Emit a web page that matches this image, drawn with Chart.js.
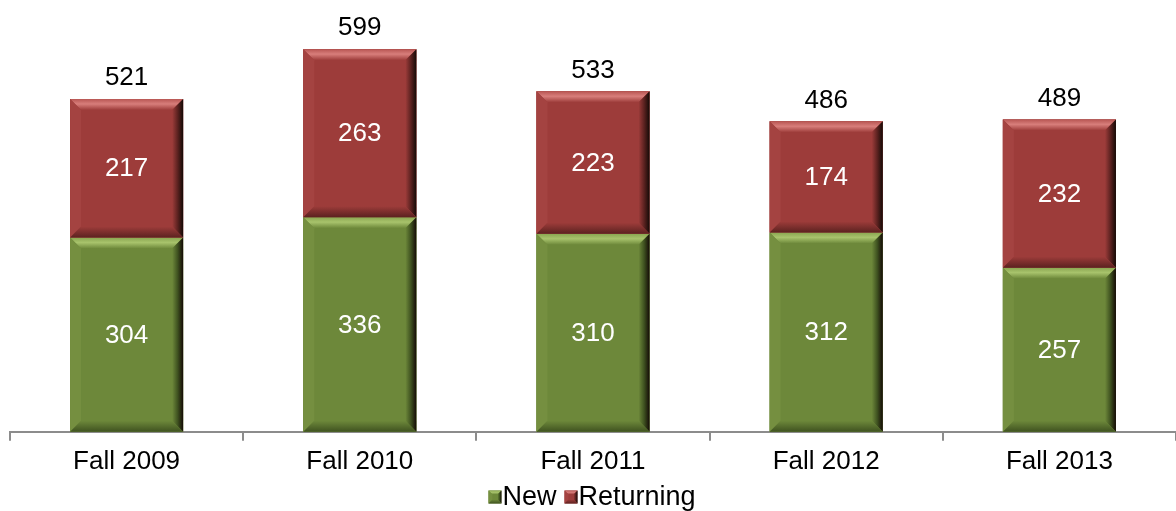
<!DOCTYPE html>
<html>
<head>
<meta charset="utf-8">
<script src="https://cdn.jsdelivr.net/npm/chart.js@4/dist/chart.umd.min.js"></script>
<style>
  html, body { margin: 0; padding: 0; background: #fff; }
  #wrap { width: 1176px; height: 511px; }
</style>
</head>
<body>
<div id="wrap"><canvas id="enroll"></canvas></div>
<script>
const terms = ["Fall 2009", "Fall 2010", "Fall 2011", "Fall 2012", "Fall 2013"];
const newStudents = [304, 336, 310, 312, 257];
const returning = [217, 263, 223, 174, 232];

const FONT = "'Liberation Sans', Arial, sans-serif";

// paint a bevelled box (office style) over a rectangle
function bevelBox(ctx, l, t, r, b, s, c) {
    ctx.save();
    ctx.fillStyle = c.base;
    ctx.fillRect(l, t, r - l, b - t);
    // top light
    let g = ctx.createLinearGradient(0, t, 0, t + s);
    g.addColorStop(0, c.top0);
    g.addColorStop(0.45, c.top1);
    g.addColorStop(1, c.base);
    ctx.fillStyle = g;
    ctx.beginPath();
    ctx.moveTo(l, t); ctx.lineTo(r, t); ctx.lineTo(r - s, t + s); ctx.lineTo(l + s, t + s);
    ctx.closePath(); ctx.fill();
    // left
    ctx.fillStyle = c.side;
    ctx.beginPath();
    ctx.moveTo(l, t); ctx.lineTo(l + s, t + s); ctx.lineTo(l + s, b - s); ctx.lineTo(l, b);
    ctx.closePath(); ctx.fill();
    // right dark
    g = ctx.createLinearGradient(r - s, 0, r, 0);
    g.addColorStop(0, c.base);
    g.addColorStop(0.5, c.dark);
    g.addColorStop(1, "#140a06");
    ctx.fillStyle = g;
    ctx.beginPath();
    ctx.moveTo(r, t); ctx.lineTo(r, b); ctx.lineTo(r - s, b - s); ctx.lineTo(r - s, t + s);
    ctx.closePath(); ctx.fill();
    // bottom dark
    g = ctx.createLinearGradient(0, b - s, 0, b);
    g.addColorStop(0, c.base);
    g.addColorStop(1, c.dark);
    ctx.fillStyle = g;
    ctx.beginPath();
    ctx.moveTo(l, b); ctx.lineTo(r, b); ctx.lineTo(r - s, b - s); ctx.lineTo(l + s, b - s);
    ctx.closePath(); ctx.fill();
    ctx.restore();
}

const bevel = {
    id: "bevel",
    afterDatasetsDraw(chart) {
        const ctx = chart.ctx;
        chart.data.datasets.forEach((ds, di) => {
            chart.getDatasetMeta(di).data.forEach(bar => {
                const l = bar.x - bar.width / 2, r = bar.x + bar.width / 2;
                const s = Math.min(11, (bar.base - bar.y) / 2);
                bevelBox(ctx, l, bar.y, r, bar.base, s, ds.bevel);
            });
        });
    }
};

const valueLabels = {
    id: "valueLabels",
    afterDraw(chart) {
        const ctx = chart.ctx;
        ctx.save();
        ctx.font = "26px " + FONT;
        ctx.textAlign = "center";
        ctx.textBaseline = "middle";
        chart.data.datasets.forEach((ds, di) => {
            chart.getDatasetMeta(di).data.forEach((bar, i) => {
                ctx.fillStyle = "#fff";
                ctx.fillText(ds.data[i], bar.x, (bar.y + bar.base) / 2 + 1);
            });
        });
        const topMeta = chart.getDatasetMeta(chart.data.datasets.length - 1);
        topMeta.data.forEach((bar, i) => {
            ctx.fillStyle = "#000";
            ctx.fillText(newStudents[i] + returning[i], bar.x, bar.y - 21);
        });

        // legend
        const y = 497;
        ctx.font = "27px " + FONT;
        ctx.textAlign = "left";
        const items = chart.data.datasets.map(ds => ({ text: ds.label, c: ds.bevel, w: ctx.measureText(ds.label).width }));
        const box = 13, gap = 1, between = 8;
        const total = items.reduce((a, it) => a + box + gap + it.w, 0) + between * (items.length - 1);
        let x = (chart.chartArea.left + chart.chartArea.right) / 2 - total / 2 - 1;
        items.forEach(it => {
            bevelBox(ctx, x, y - box / 2, x + box, y + box / 2, 4, it.c);
            ctx.fillStyle = "#000";
            ctx.fillText(it.text, x + box + gap, y + 1);
            x += box + gap + it.w + between;
        });
        ctx.restore();
    }
};

new Chart(document.getElementById("enroll"), {
    type: "bar",
    data: {
        labels: terms,
        datasets: [
            {
                label: "New", data: newStudents, backgroundColor: "#6d883a",
                bevel: { base: "#6d883a", top0: "#8aa650", top1: "#a8c36c", side: "#758f40", dark: "#3f5220" }
            },
            {
                label: "Returning", data: returning, backgroundColor: "#9d3c3a",
                bevel: { base: "#9d3c3a", top0: "#b85653", top1: "#d87e7b", side: "#a44341", dark: "#5c2220" }
            }
        ]
    },
    options: {
        responsive: true,
        maintainAspectRatio: false,
        animation: false,
        layout: { padding: { left: 10, right: 0, top: 0, bottom: 29 } },
        datasets: { bar: { barPercentage: 0.97, categoryPercentage: 0.5 } },
        plugins: {
            tooltip: { enabled: false },
            legend: { display: false }
        },
        scales: {
            x: {
                stacked: true,
                border: { display: true, color: "#8c8c8c", width: 2 },
                grid: { drawOnChartArea: false, drawTicks: true, tickLength: 9, color: "#8c8c8c", lineWidth: 2 },
                ticks: {
                    color: "#000", padding: 5,
                    font: { family: FONT, size: 26 }
                }
            },
            y: { stacked: true, display: false, min: 0, max: 676 }
        }
    },
    plugins: [bevel, valueLabels]
});
</script>
</body>
</html>
